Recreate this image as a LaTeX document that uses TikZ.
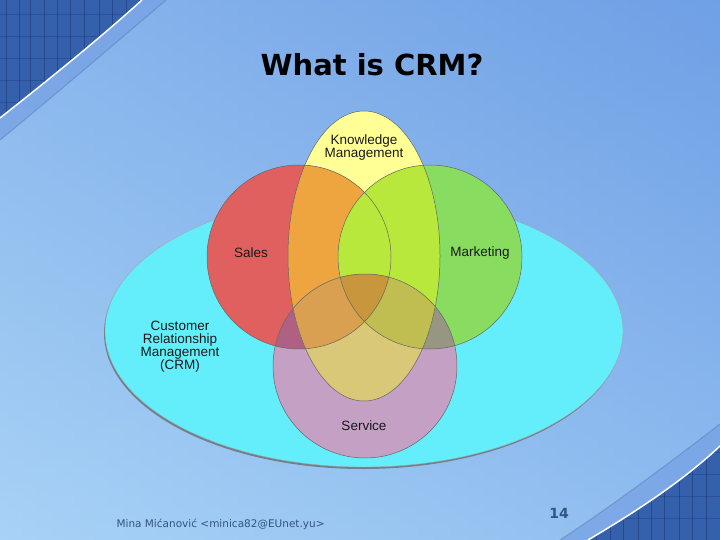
\documentclass[tikz,border=0pt]{standalone}
\usepackage{fontspec}
\setmainfont{Liberation Sans}
\newfontfamily\slidefont{DejaVu Sans}
\usetikzlibrary{positioning}

\definecolor{bgleft}{RGB}{166,208,246}
\definecolor{bgright}{RGB}{116,164,232}
\definecolor{bgtop}{RGB}{108,156,228}
\definecolor{bgbottom}{RGB}{170,212,246}
\definecolor{cornerblue}{RGB}{52,96,172}
\definecolor{gridblue}{RGB}{28,56,124}
\definecolor{bandblue}{RGB}{118,160,228}
\definecolor{crmshadow}{RGB}{112,128,140}
\definecolor{crmcyan}{RGB}{100,238,252}
\definecolor{kmyellow}{RGB}{255,255,150}
\definecolor{salesred}{RGB}{224,96,96}
\definecolor{mktgreen}{RGB}{136,220,96}
\definecolor{servpurple}{RGB}{196,160,196}
\definecolor{rykm}{RGB}{238,165,64}
\definecolor{gykm}{RGB}{184,232,60}
\definecolor{rgykm}{RGB}{212,160,20}
\definecolor{rpserv}{RGB}{176,96,130}
\definecolor{gpserv}{RGB}{150,150,130}
\definecolor{ypserv}{RGB}{216,200,120}
\definecolor{rypserv}{RGB}{216,160,80}
\definecolor{gypserv}{RGB}{192,190,80}
\definecolor{allfour}{RGB}{200,150,60}
\definecolor{footblue}{RGB}{50,84,130}

\newcommand{\crmarea}{(364,331) ellipse [x radius=259, y radius=136]}
\newcommand{\kmarea}{(364,256) ellipse [x radius=76, y radius=145]}
\newcommand{\salesarea}{(299,257) circle [radius=92]}
\newcommand{\mktarea}{(430,257) circle [radius=92]}
\newcommand{\servarea}{(365,366) circle [radius=92]}

\tikzset{
  rim/.style={draw=black!60, line width=0.5pt},
  lbl/.style={font=\fontsize{13.5}{13}\selectfont, align=center, text=black!90},
}

\begin{document}
\begin{tikzpicture}[x=1pt,y=-1pt]
\useasboundingbox (0,0) rectangle (720,540);
% slide background
\shade[left color=bgleft, right color=bgright] (0,0) rectangle (720,540);
\shade[top color=bgtop, bottom color=bgbottom, opacity=0.5] (0,0) rectangle (720,540);

% top left corner
\begin{scope}
  \clip (0,0) -- (0,118) .. controls (48,80) and (98,40) .. (142,0) -- cycle;
  \fill[cornerblue] (0,0) rectangle (150,130);
  \foreach \gx in {6,19,30,44,57,70,84,99,112,126,139} \draw[gridblue, line width=0.8pt, opacity=0.6] (\gx,0) -- (\gx,130);
  \foreach \gy in {14,36,58,80,102} \draw[gridblue, opacity=0.4] (0,\gy) -- (150,\gy);
\end{scope}
\fill[bandblue, opacity=0.7] (0,118) .. controls (48,80) and (98,40) .. (142,0) -- (166,0) .. controls (112,46) and (56,94) .. (0,140) -- cycle;
\draw[bandblue!80!black, line width=1.2pt, opacity=0.5] (0,140) .. controls (56,94) and (112,46) .. (166,0);
\draw[white, line width=1.5pt] (0,118) .. controls (48,80) and (98,40) .. (142,0);

% bottom right corner
\begin{scope}
  \clip (588,540) .. controls (632,514) and (682,482) .. (720,446) -- (720,540) -- cycle;
  \fill[cornerblue] (580,440) rectangle (720,540);
  \foreach \gx in {596,610,623,638,651,664,679,692,706} \draw[gridblue, line width=0.8pt, opacity=0.6] (\gx,440) -- (\gx,540);
  \foreach \gy in {452,474,496,518} \draw[gridblue, opacity=0.4] (580,\gy) -- (720,\gy);
\end{scope}
\fill[bandblue, opacity=0.7] (588,540) .. controls (632,514) and (682,482) .. (720,446) -- (720,424) .. controls (668,464) and (612,506) .. (560,540) -- cycle;
\draw[bandblue!80!black, line width=1.2pt, opacity=0.5] (560,540) .. controls (612,506) and (668,464) .. (720,424);
\draw[white, line width=1.5pt] (588,540) .. controls (632,514) and (682,482) .. (720,446);

% CRM ellipse with its shadow
\fill[crmshadow] (363,333) ellipse [x radius=259, y radius=136];
\fill[crmcyan] \crmarea;
\draw[black!35, line width=0.4pt] \crmarea;

% the four sets
\fill[kmyellow] \kmarea;
\fill[salesred] \salesarea;
\fill[mktgreen] \mktarea;
\fill[servpurple] \servarea;

% overlaps
\begin{scope}
  \clip \salesarea;
  \fill[rykm] \kmarea;
  \fill[rgykm] \mktarea; % sales and marketing meet inside knowledge management
\end{scope}
\begin{scope}
  \clip \mktarea;
  \fill[gykm] \kmarea;
\end{scope}
\begin{scope}
  \clip \servarea;
  \fill[rpserv] \salesarea;
  \fill[gpserv] \mktarea;
  \fill[ypserv] \kmarea;
  \begin{scope}
    \clip \mktarea;
    \fill[gypserv] \kmarea;
  \end{scope}
  \begin{scope}
    \clip \salesarea;
    \fill[rypserv] \kmarea;
    \fill[allfour] \mktarea;
  \end{scope}
\end{scope}

% outlines
\draw[rim] \kmarea;
\draw[rim] \salesarea;
\draw[rim] \mktarea;
\draw[rim] \servarea;

% labels
\node[lbl] (kmlabel) at (364,148) {Knowledge\\Management};
\node[lbl] (saleslabel) at (251,253) {Sales};
\node[lbl] (mktlabel) at (480,253) {Marketing};
\node[lbl] (servlabel) at (364,426) {Service};
\node[lbl] (crmlabel) at (180,347) {Customer\\Relationship\\Management\\(CRM)};

% title and footer
\node[font=\slidefont\bfseries\fontsize{29}{29}\selectfont] (title) at (372,65) {What is CRM?};
\node[font=\slidefont\fontsize{10.5}{12}\selectfont, text=footblue, anchor=west] (author) at (113,524) {Mina Mićanović <minica82@EUnet.yu>};
\node[font=\slidefont\bfseries\fontsize{14}{14}\selectfont, text=footblue] (pagenum) at (559,513) {14};
\end{tikzpicture}
\end{document}
